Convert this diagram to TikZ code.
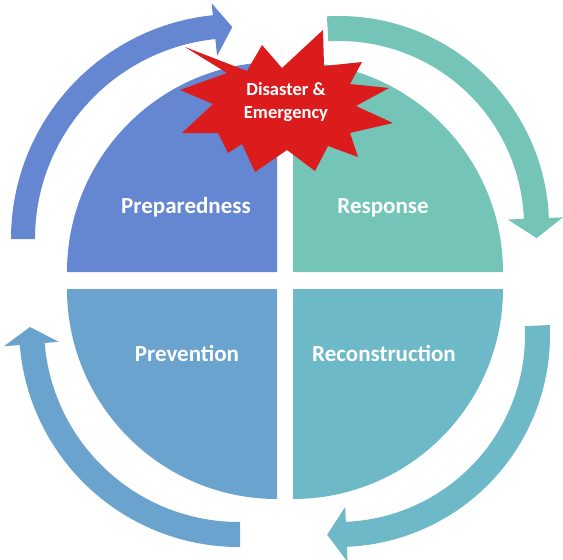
\documentclass[tikz,border=0pt]{standalone}
\usepackage{fontspec}
\setmainfont{Carlito}
\usepackage{tikz}
\usetikzlibrary{positioning}
\definecolor{prepcol}{RGB}{101,134,208}
\definecolor{respcol}{RGB}{116,196,184}
\definecolor{prevcol}{RGB}{106,163,206}
\definecolor{recocol}{RGB}{109,185,200}
\definecolor{starcol}{RGB}{220,28,28}

\begin{document}
\begin{tikzpicture}[
  x=1pt, y=-1pt,
  quarter/.style={draw=none},
  phase/.style={text=white, font=\bfseries\fontsize{23}{28}\selectfont,
                inner sep=0pt, anchor=base},
  startext/.style={text=white, font=\bfseries\fontsize{18.5}{23}\selectfont,
                   inner sep=0pt, anchor=base}
]
  \useasboundingbox (0,0) rectangle (563,560);

  % quarter discs
  \fill[prepcol] (277,272) -- (67,272) arc[start angle=180, end angle=270, radius=210] -- cycle;
  \fill[respcol] (293,272) -- (293,62) arc[start angle=270, end angle=360, radius=210] -- cycle;
  \fill[prevcol] (277,289) -- (67,289) arc[start angle=180, end angle=90, radius=210] -- cycle;
  \fill[recocol] (293,289) -- (503,289) arc[start angle=0, end angle=90, radius=210] -- cycle;

  % curved block arrows
  \begin{scope}[shift={(236,239)}]
    \fill[prepcol] (180:201) -- (180:225) arc[start angle=180, end angle=264.1, radius=225]
      -- (264.1:237) -- (269:212) -- (264.1:184) -- (264.1:201)
      arc[start angle=264.1, end angle=180, radius=201] -- cycle;
  \end{scope}
  \begin{scope}[shift={(339,226)}]
    \fill[respcol] (266.7:185) -- (266.7:210) arc[start angle=266.7, end angle=357.8, radius=210]
      -- (357.8:224) -- (363.5:198) -- (357.8:169) -- (357.8:185)
      arc[start angle=357.8, end angle=266.7, radius=185] -- cycle;
  \end{scope}
  \begin{scope}[shift={(338,335)}]
    \fill[recocol] (-2.7:187) -- (-2.7:212) arc[start angle=-2.7, end angle=87.6, radius=212]
      -- (87.6:227) -- (93.1:200) -- (87.6:172) -- (87.6:187)
      arc[start angle=87.6, end angle=-2.7, radius=187] -- cycle;
  \end{scope}
  \begin{scope}[shift={(239,327)}]
    \fill[prevcol] (89.7:195) -- (89.7:220) arc[start angle=89.7, end angle=175.3, radius=220]
      -- (175.3:236) -- (180:209) -- (175.3:181) -- (175.3:195)
      arc[start angle=175.3, end angle=89.7, radius=195] -- cycle;
  \end{scope}

  % explosion
  \fill[starcol] (185,47) -- (247,71) -- (262,45) -- (282,68) -- (323,30) -- (324,66)
    -- (362,62) -- (350,84) -- (389,88) -- (356,106) -- (393,123) -- (350,133)
    -- (358,157) -- (328,146) -- (315,171) -- (287,150) -- (255,172) -- (242,144)
    -- (228,153) -- (218,133) -- (182,133) -- (213,104) -- (180,90) -- (227,73) -- cycle;

  \node[startext] (dis) at (286,95) {Disaster \&};
  \node[startext] (emer) at (286,118) {Emergency};

  \node[phase] (prep) at (186,213) {Preparedness};
  \node[phase] (resp) at (383,213) {Response};
  \node[phase] (prev) at (187,361) {Prevention};
  \node[phase] (reco) at (384,361) {Reconstruction};
\end{tikzpicture}
\end{document}
